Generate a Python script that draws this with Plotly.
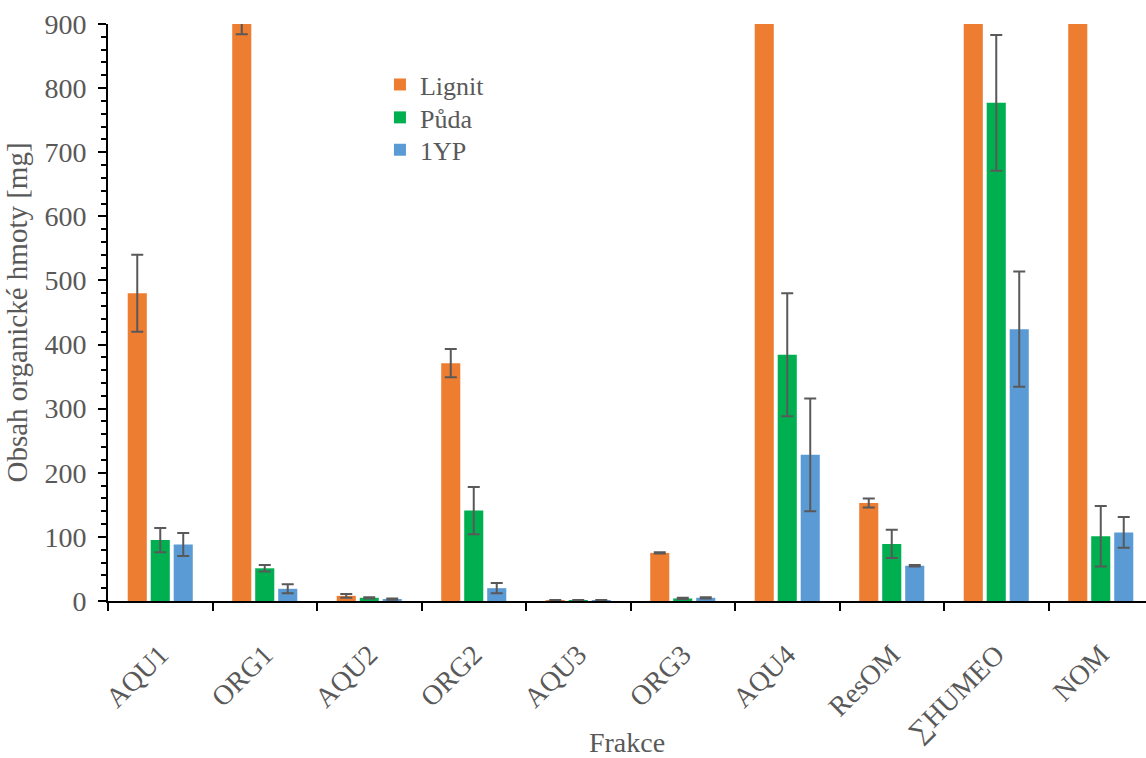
import plotly.graph_objects as go

categories = ["AQU1", "ORG1", "AQU2", "ORG2", "AQU3", "ORG3", "AQU4", "ResOM", "∑HUMEO", "NOM"]

lignit = [480, 940, 8, 371, 1, 75, 1500, 153, 2600, 3000]
lignit_err = [60, 56, 3, 22, 0.5, 1, 100, 7, 150, 150]

puda = [95, 51, 5, 141, 1, 4, 384, 89, 777, 101]
puda_err = [19, 5, 1, 37, 0.5, 1, 96, 22, 106, 47]

yp = [88, 19, 3, 20, 1, 5, 228, 55, 424, 107]
yp_err = [18, 7, 1, 8, 0.5, 1, 88, 1, 90, 24]

series = [
    ("Lignit", lignit, lignit_err, "#ED7D31", "legend"),
    ("Půda", puda, puda_err, "#00B050", "legend2"),
    ("1YP", yp, yp_err, "#5B9BD5", "legend3"),
]

font_family = "Liberation Serif, Times New Roman, serif"
grey = "#595959"
fs = 28

fig = go.Figure()
for name, vals, errs, color, leg in series:
    fig.add_trace(go.Bar(
        x=categories, y=vals, name=name, legend=leg,
        marker=dict(color=color, line=dict(width=0)),
        error_y=dict(type="data", array=errs, visible=True,
                     color=grey, thickness=2, width=6),
    ))

legend_style = dict(x=0.262, xanchor="left", yanchor="middle",
                    font=dict(size=26, color=grey, family=font_family),
                    bgcolor="rgba(0,0,0,0)", itemwidth=30)

fig.update_layout(
    width=1146, height=758,
    margin=dict(l=108, r=0, t=24, b=157),
    paper_bgcolor="white", plot_bgcolor="white",
    barmode="group", bargap=0.34, bargroupgap=0.17,
    font=dict(family=font_family, size=fs, color=grey),
    legend=dict(y=0.895, **legend_style),
    legend2=dict(y=0.838, **legend_style),
    legend3=dict(y=0.782, **legend_style),
    showlegend=True,
)

fig.update_xaxes(
    type="category", range=[-0.5, 9.433], automargin=False,
    showline=True, linecolor="black", linewidth=2,
    ticks="outside", tickson="boundaries", ticklen=8, tickcolor="black", tickwidth=2,
    tickangle=-45, ticklabelstandoff=24,
    tickfont=dict(size=fs, color=grey, family=font_family),
    showgrid=False,
    title=dict(text="Frakce", font=dict(size=fs, color=grey, family=font_family), standoff=6),
)

fig.update_yaxes(
    range=[0, 900], dtick=100, tick0=0, automargin=False,
    showline=True, linecolor="black", linewidth=2,
    ticks="outside", ticklen=8, tickcolor="black", tickwidth=2,
    minor=dict(dtick=20, ticks="outside", ticklen=5, tickcolor="black", tickwidth=2, showgrid=False),
    showgrid=False, zeroline=False, ticklabelstandoff=6,
    tickfont=dict(size=fs, color=grey, family=font_family),
    title=dict(text="Obsah organické hmoty [mg]", font=dict(size=29, color=grey, family=font_family), standoff=8),
)

fig.write_html("out.html")
